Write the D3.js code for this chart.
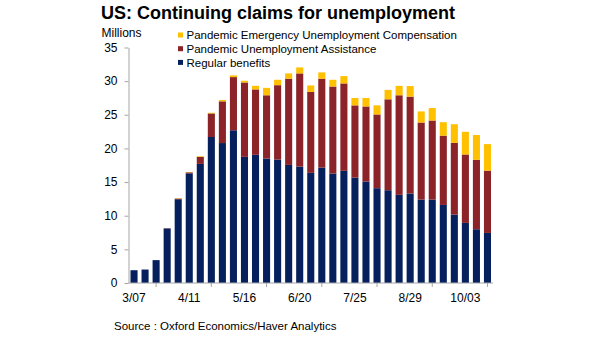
<!DOCTYPE html>
<html>
<head>
    <script src="https://cdn.jsdelivr.net/npm/d3@7"></script>
    <style>
        body { margin: 0; background: #fff; }
        #chart { width: 605px; height: 341px; display: block; }
        text { font-family: Arial, "Liberation Sans", sans-serif; fill: #000; }
    </style>
</head>
<body>

<svg id="chart" width="605" height="341"></svg>

<script>
    // weekly dates, 2020
    const weeks = ["3/07", "3/14", "3/21", "3/28", "4/04", "4/11", "4/18", "4/25", "5/02", "5/09",
        "5/16", "5/23", "5/30", "6/06", "6/13", "6/20", "6/27", "7/04", "7/11", "7/18",
        "7/25", "8/01", "8/08", "8/15", "8/22", "8/29", "9/05", "9/12", "9/19", "9/26",
        "10/03", "10/10", "10/17"];

    // millions
    const regular = [1.9, 2.0, 3.4, 8.1, 12.45, 16.3, 17.7, 21.7, 20.8, 22.7,
        18.75, 19.05, 18.5, 18.35, 17.55, 17.3, 16.37, 17.16, 16.27, 16.67,
        15.67, 15.08, 14.09, 13.79, 13.1, 13.3, 12.4, 12.4, 11.6, 10.17,
        8.93, 7.99, 7.44];
    const pua = [0, 0, 0, 0.05, 0.1, 0.15, 1.05, 3.5, 6.2, 7.9,
        11.05, 9.72, 9.4, 11.05, 12.81, 13.85, 12.03, 13.2, 12.93, 12.99,
        10.73, 11.16, 10.96, 13.51, 14.8, 14.4, 11.45, 11.75, 10.3, 10.66,
        10.17, 10.31, 9.26];
    const peuc = [0, 0, 0, 0, 0.05, 0.05, 0.1, 0.1, 0.2, 0.25,
        0.26, 0.53, 1.1, 0.8, 0.79, 0.89, 0.96, 0.94, 1.0, 1.09,
        1.1, 1.26, 1.35, 1.4, 1.4, 1.57, 1.65, 1.85, 2.0, 2.77,
        3.37, 3.7, 3.94];

    const yTicks = [0, 5, 10, 15, 20, 25, 30, 35];
    const xLabels = ["3/07", "4/11", "5/16", "6/20", "7/25", "8/29", "10/03"];
    const xTickMarks = ["3/21", "4/25", "5/30", "7/04", "8/08", "9/12", "10/17"];

    const seriesKeys = ["regular", "pua", "peuc"];
    const colors = { regular: "#06205e", pua: "#8b2328", peuc: "#ffc000" };
    const legendItems = [
        { key: "peuc", label: "Pandemic Emergency Unemployment Compensation" },
        { key: "pua", label: "Pandemic Unemployment Assistance" },
        { key: "regular", label: "Regular benefits" }
    ];

    const rows = weeks.map((w, i) => ({ week: w, regular: regular[i], pua: pua[i], peuc: peuc[i] }));

    const svg = d3.select("#chart");
    const plotLeft = 128.5, plotRight = 493, plotTop = 47.5, plotBottom = 283;

    const x = d3.scaleBand().domain(weeks).range([plotLeft, plotRight]).paddingInner(0.36).paddingOuter(0.18);
    const y = d3.scaleLinear().domain([0, 35]).range([plotBottom, plotTop]);

    const stacked = d3.stack().keys(seriesKeys)(rows);

    // bars
    svg.append("g").selectAll("g")
        .data(stacked)
        .join("g")
        .attr("fill", d => colors[d.key])
        .selectAll("rect")
        .data(d => d)
        .join("rect")
        .attr("x", d => x(d.data.week))
        .attr("width", x.bandwidth())
        .attr("y", d => y(d[1]))
        .attr("height", d => Math.max(0, y(d[0]) - y(d[1])));

    // y axis
    const yAxis = svg.append("g")
        .attr("transform", `translate(${plotLeft},0)`)
        .call(d3.axisLeft(y).tickValues(yTicks).tickSize(4).tickPadding(7).tickSizeOuter(0));
    yAxis.select(".domain").attr("stroke", "#a6a6a6");
    yAxis.selectAll(".tick line").attr("stroke", "#a6a6a6");
    yAxis.selectAll("text").style("font-size", "12px").attr("fill", "#000");

    // x axis line and ticks
    svg.append("line")
        .attr("x1", plotLeft).attr("x2", plotRight)
        .attr("y1", plotBottom).attr("y2", plotBottom)
        .attr("stroke", "#a6a6a6");
    svg.append("g").selectAll("line")
        .data(xTickMarks)
        .join("line")
        .attr("x1", d => x(d) + x.bandwidth() / 2)
        .attr("x2", d => x(d) + x.bandwidth() / 2)
        .attr("y1", plotBottom).attr("y2", plotBottom + 4)
        .attr("stroke", "#a6a6a6");
    svg.append("g").selectAll("text")
        .data(xLabels)
        .join("text")
        .attr("x", d => x(d) + x.bandwidth() / 2)
        .attr("y", 302)
        .attr("text-anchor", "middle")
        .style("font-size", "12px")
        .text(d => d);

    // title etc
    svg.append("text")
        .attr("x", 101).attr("y", 18.5)
        .style("font-size", "18px").style("font-weight", "bold")
        .text("US: Continuing claims for unemployment");
    svg.append("text")
        .attr("x", 101.5).attr("y", 37)
        .style("font-size", "12px")
        .text("Millions");
    svg.append("text")
        .attr("x", 114).attr("y", 330)
        .style("font-size", "11.5px")
        .text("Source : Oxford Economics/Haver Analytics");

    // legend
    const legend = svg.append("g").selectAll("g")
        .data(legendItems)
        .join("g")
        .attr("transform", (d, i) => `translate(178,${35 + i * 13.7})`);
    legend.append("rect")
        .attr("x", 0).attr("y", -2.5)
        .attr("width", 5).attr("height", 5)
        .attr("fill", d => colors[d.key]);
    legend.append("text")
        .attr("x", 8.5).attr("y", 4.2)
        .style("font-size", "11.5px")
        .text(d => d.label);
</script>
</body>
</html>
